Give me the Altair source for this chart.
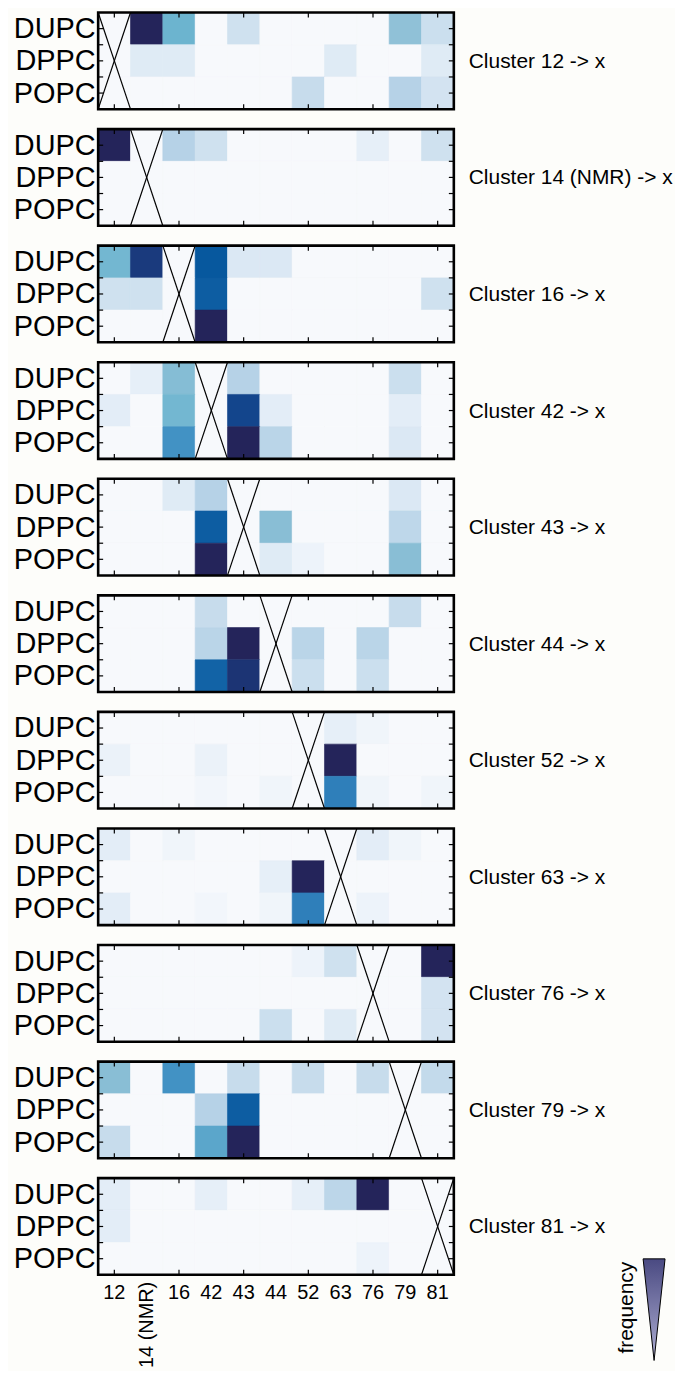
import json
import altair as alt
import pandas as pd

FONT = "Liberation Sans, Arial, Helvetica, sans-serif"

ROWS = ["DUPC", "DPPC", "POPC"]
COLS = ["12", "14 (NMR)", "16", "42", "43", "44", "52", "63", "76", "79", "81"]
CLUSTERS = ["12", "14 (NMR)", "16", "42", "43", "44", "52", "63", "76", "79", "81"]

# frequency per cluster: rows DUPC, DPPC, POPC ; columns as COLS
F12 = [[0, 1.0, 0.52, 0, 0.18, 0, 0, 0, 0, 0.42, 0.2],
       [0, 0.1, 0.1, 0, 0, 0, 0, 0.1, 0, 0, 0.1],
       [0, 0, 0, 0, 0, 0, 0.22, 0, 0, 0.3, 0.16]]
F14 = [[1.0, 0, 0.3, 0.18, 0, 0, 0, 0, 0.07, 0, 0.18],
       [0, 0, 0, 0, 0, 0, 0, 0, 0, 0, 0],
       [0, 0, 0, 0, 0, 0, 0, 0, 0, 0, 0]]
F16 = [[0.5, 0.92, 0, 0.82, 0.12, 0.12, 0, 0, 0, 0, 0],
       [0.18, 0.18, 0, 0.8, 0, 0, 0, 0, 0, 0, 0.18],
       [0, 0, 0, 1.0, 0, 0, 0, 0, 0, 0, 0]]
F42 = [[0, 0.07, 0.45, 0, 0.3, 0, 0, 0, 0, 0.2, 0],
       [0.08, 0, 0.5, 0, 0.88, 0.08, 0, 0, 0, 0.08, 0],
       [0, 0, 0.62, 0, 1.0, 0.28, 0, 0, 0, 0.12, 0]]
F43 = [[0, 0, 0.1, 0.3, 0, 0, 0, 0, 0, 0.12, 0],
       [0, 0, 0, 0.8, 0, 0.44, 0, 0, 0, 0.26, 0],
       [0, 0, 0, 1.0, 0, 0.1, 0.04, 0, 0, 0.44, 0]]
F44 = [[0, 0, 0, 0.22, 0, 0, 0, 0, 0, 0.22, 0],
       [0, 0, 0, 0.28, 1.0, 0, 0.28, 0, 0.28, 0, 0],
       [0, 0, 0, 0.78, 0.94, 0, 0.2, 0, 0.2, 0, 0]]
F52 = [[0, 0, 0, 0, 0, 0, 0, 0.07, 0.03, 0, 0],
       [0.05, 0, 0, 0.05, 0, 0, 0, 1.0, 0, 0, 0],
       [0, 0, 0, 0.02, 0, 0.03, 0, 0.68, 0.03, 0, 0.03]]
F63 = [[0.08, 0, 0.03, 0, 0, 0, 0, 0, 0.08, 0.03, 0],
       [0, 0, 0, 0, 0, 0.07, 1.0, 0, 0, 0, 0],
       [0.08, 0, 0, 0.02, 0, 0.03, 0.68, 0, 0.04, 0, 0]]
F76 = [[0, 0, 0, 0, 0, 0, 0.04, 0.18, 0, 0, 1.0],
       [0, 0, 0, 0, 0, 0, 0, 0, 0, 0, 0.16],
       [0, 0, 0, 0, 0, 0.2, 0, 0.1, 0, 0, 0.16]]
F79 = [[0.44, 0, 0.62, 0, 0.22, 0, 0.22, 0, 0.22, 0, 0.24],
       [0, 0, 0, 0.3, 0.8, 0, 0, 0, 0, 0, 0],
       [0.22, 0, 0, 0.56, 1.0, 0, 0, 0, 0, 0, 0]]
F81 = [[0.08, 0, 0, 0.07, 0, 0, 0.07, 0.27, 1.0, 0, 0],
       [0.08, 0, 0, 0, 0, 0, 0, 0, 0, 0, 0],
       [0, 0, 0, 0, 0, 0, 0, 0, 0.04, 0, 0]]
FREQS = [F12, F14, F16, F42, F43, F44, F52, F63, F76, F79, F81]

COLOR_STOPS = [0.0, 0.08, 0.18, 0.3, 0.42, 0.52, 0.62, 0.72, 0.82, 0.9, 1.0]
COLOR_RANGE = ["#f7f9fc", "#e3edf7", "#cfe1ef", "#b6d2e7", "#90c1d7", "#6cb4cf",
               "#4292c4", "#2373b3", "#07589e", "#173f86", "#24245a"]

W, H = 357, 97
xs = alt.Scale(domain=[0, len(COLS)], nice=False, zero=False)
ys = alt.Scale(domain=[0, len(ROWS)], reverse=True, nice=False, zero=False)
cs = alt.Scale(domain=COLOR_STOPS, range=COLOR_RANGE, interpolate="rgb")

label_expr = json.dumps(ROWS) + "[floor(datum.value)]"

xtick_df = pd.DataFrame({"xt": [i + 0.5 for i in range(0, len(COLS), 2)]})
ytick_df = pd.DataFrame({"yt": [0.5 * k for k in range(1, 2 * len(ROWS))]})
one_df = pd.DataFrame({"a": [0]})


def panel(k, last=False):
    recs = []
    for r, row in enumerate(ROWS):
        for c, col in enumerate(COLS):
            recs.append({"x0": c, "x1": c + 1, "y0": r, "y1": r + 1,
                         "v": FREQS[k][r][c]})
    d = pd.DataFrame(recs)
    cells = alt.Chart(d).mark_rect(strokeWidth=0.6).encode(
        x=alt.X("x0:Q", scale=xs, axis=None),
        x2="x1:Q",
        y=alt.Y("y0:Q", scale=ys, title=None,
                axis=alt.Axis(values=[0.5 + i for i in range(len(ROWS))],
                              labelExpr=label_expr, ticks=False, tickSize=0,
                              domain=False, grid=False, labelFontSize=29,
                              labelFont=FONT, labelColor="black",
                              labelPadding=3, labelBaseline="middle")),
        y2="y1:Q",
        color=alt.Color("v:Q", scale=cs, legend=None),
        stroke=alt.Stroke("v:Q", scale=cs, legend=None),
    )
    cross_df = pd.DataFrame({"xa": [k, k + 1], "xb": [k + 1, k],
                             "ya": [0, 0], "yb": [len(ROWS), len(ROWS)]})
    cross = alt.Chart(cross_df).mark_rule(color="black", strokeWidth=1.2).encode(
        x=alt.X("xa:Q", scale=xs), x2="xb:Q",
        y=alt.Y("ya:Q", scale=ys), y2="yb:Q")
    tick = dict(color="black", strokeWidth=1.2)
    ttop = alt.Chart(xtick_df).mark_rule(**tick).encode(
        x=alt.X("xt:Q", scale=xs), y=alt.value(0), y2=alt.value(5))
    tbot = alt.Chart(xtick_df).mark_rule(**tick).encode(
        x=alt.X("xt:Q", scale=xs), y=alt.value(H - 5), y2=alt.value(H))
    tleft = alt.Chart(ytick_df).mark_rule(**tick).encode(
        y=alt.Y("yt:Q", scale=ys), x=alt.value(0), x2=alt.value(5))
    tright = alt.Chart(ytick_df).mark_rule(**tick).encode(
        y=alt.Y("yt:Q", scale=ys), x=alt.value(W - 5), x2=alt.value(W))
    frame = alt.Chart(one_df).mark_rect(filled=False, stroke="black",
                                        strokeWidth=2.6).encode(
        x=alt.value(0), x2=alt.value(W), y=alt.value(0), y2=alt.value(H))
    title_df = pd.DataFrame({"t": ["Cluster " + CLUSTERS[k] + " -> x"]})
    ttl = alt.Chart(title_df).mark_text(
        align="left", baseline="middle", fontSize=21, font=FONT,
        color="black").encode(x=alt.value(W + 15), y=alt.value(H / 2 + 1),
                              text="t:N")
    layers = [cells, cross, ttop, tbot, tleft, tright, frame, ttl]
    if last:
        lab_df = pd.DataFrame({"lab": COLS, "xc": [i + 0.5 for i in range(len(COLS))]})
        labs = alt.Chart(lab_df).transform_filter(
            "length(datum.lab) <= 2").mark_text(
            baseline="top", fontSize=20, font=FONT, color="black").encode(
            x=alt.X("xc:Q", scale=xs), y=alt.value(H + 8), text="lab:N")
        rot = alt.Chart(lab_df).transform_filter(
            "length(datum.lab) > 2").mark_text(
            angle=270, align="right", baseline="middle", fontSize=20,
            font=FONT, color="black").encode(
            x=alt.X("xc:Q", scale=xs), y=alt.value(H + 7), text="lab:N")
        leg_df = pd.DataFrame({"t": ["frequency"]})
        leg_txt = alt.Chart(leg_df).mark_text(
            angle=270, align="center", baseline="middle", fontSize=21,
            font=FONT, color="black").encode(
            x=alt.value(531), y=alt.value(130), text="t:N")
        grad = alt.Gradient(
            gradient="linear",
            stops=[alt.GradientStop(color="#4a4a82", offset=0),
                   alt.GradientStop(color="#aeaed2", offset=1)],
            x1=0, x2=0, y1=0, y2=1)
        tri = alt.Chart(leg_df).mark_point(
            shape="M -0.216 -1 L 0.216 -1 L 0 1 Z", size=102 * 102,
            filled=True, fill=grad, stroke="black", strokeWidth=1,
            opacity=1, fillOpacity=1).encode(
            x=alt.value(558), y=alt.value(132))
        layers += [labs, rot, leg_txt, tri]
    return alt.layer(*layers).properties(width=W, height=H)


panels = [panel(k, last=(k == len(CLUSTERS) - 1)) for k in range(len(CLUSTERS))]

chart = alt.vconcat(*panels, spacing=16).properties(
    background="#fdfdfa",
    padding={"left": 4.5, "top": 0, "right": 2, "bottom": 0},
).configure_view(stroke=None)

chart.save("out.html", embed_options={"renderer": "svg", "actions": False})
